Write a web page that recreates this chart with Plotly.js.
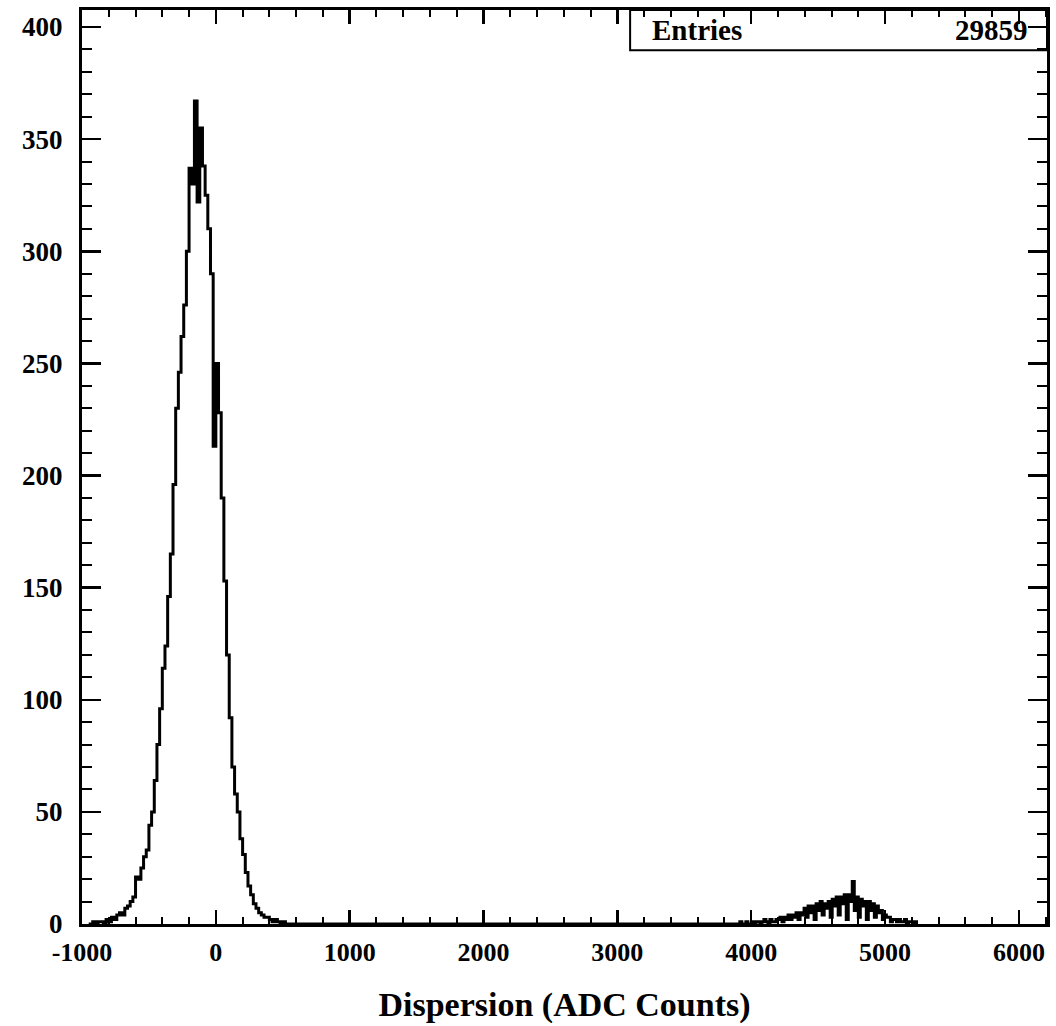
<!DOCTYPE html>
<html>
<head>
<meta charset="utf-8">
<script src="https://cdn.plot.ly/plotly-3.0.1.min.js"></script>
<style>html,body{margin:0;padding:0;background:#fff;}</style>
</head>
<body>
<div id="chart" style="width:1056px;height:1026px;"></div>
<script>
// ---- data ----
// main peak: bins of width 20 starting at -960
const mainBinLow = -960;
const mainBinWidth = 20;
const mainCounts = [
  0, 0, 1, 0, 1, 1, 0, 2, 1, 3,
  2, 4, 5, 4, 7, 8, 10, 12, 21, 20,
  25, 30, 33, 44, 50, 64, 80, 96, 114, 124,
  146, 165, 196, 230, 246, 262, 276, 300, 337, 330,
  367, 322, 355, 338, 325, 310, 290, 213, 250, 228,
  190, 153, 120, 92, 70, 58, 50, 38, 31, 23,
  17, 13, 9, 7, 5, 4, 3, 3, 2, 1,
  2, 1, 0, 1, 0, 0
];
// second peak: bins of width 15 starting at 3900
const secondBinLow = 3900;
const secondBinWidth = 15;
const secondCounts = [
  0, 1, 0, 0, 1, 0, 0, 1, 0, 1,
  1, 0, 1, 2, 1, 0, 2, 1, 1, 2,
  2, 3, 1, 3, 2, 4, 2, 4, 3, 5,
  2, 5, 4, 7, 3, 8, 5, 8, 2, 9,
  6, 10, 4, 9, 7, 10, 3, 11, 8, 12,
  4, 12, 9, 13, 2, 13, 10, 19, 6, 12,
  3, 11, 8, 10, 2, 10, 6, 9, 3, 8,
  5, 6, 2, 4, 3, 3, 1, 2, 2, 1,
  2, 1, 1, 2, 0, 1, 1, 0, 1, 0
];
const entries = 29859;
const xTitle = "Dispersion (ADC Counts)";
const statLabel = "Entries";
const xTickValues = [-1000, 0, 1000, 2000, 3000, 4000, 5000, 6000];
const xTickLabels = ["-1000", "0", "1000", "2000", "3000", "4000", "5000", "6000"];

// ---- build step series ----
const xs = [], ys = [];
mainCounts.forEach((c, i) => { xs.push(mainBinLow + (i + 0.5) * mainBinWidth); ys.push(c); });
secondCounts.forEach((c, i) => { xs.push(secondBinLow + (i + 0.5) * secondBinWidth); ys.push(c); });

const serif = "Liberation Serif, Times New Roman, serif";

const trace = {
  x: xs, y: ys, type: "scatter", mode: "lines",
  line: { shape: "hvh", color: "#000", width: 3 },
  hoverinfo: "skip"
};

const layout = {
  width: 1056, height: 1026,
  margin: { l: 82, r: 9, t: 10, b: 102 },
  paper_bgcolor: "#fff", plot_bgcolor: "#fff",
  showlegend: false,
  font: { family: serif, color: "#000", size: 26, weight: "bold" },
  xaxis: {
    range: [-1000, 6210],
    tickmode: "array", tickvals: xTickValues, ticktext: xTickLabels,
    ticks: "inside", ticklen: 14, tickwidth: 2.5, tickcolor: "#000",
    minor: { dtick: 200, tick0: 0, ticks: "inside", ticklen: 7, tickwidth: 2, tickcolor: "#000" },
    showline: true, linewidth: 3, linecolor: "#000", mirror: "allticks",
    showgrid: false, zeroline: false,
    tickfont: { family: serif, size: 26, color: "#000", weight: "bold" },
    ticklabelstandoff: 3,
    title: { text: xTitle, font: { family: serif, size: 34, color: "#000", weight: "bold" }, standoff: 26 }
  },
  yaxis: {
    range: [0, 407.6], tick0: 0, dtick: 50,
    ticks: "inside", ticklen: 19, tickwidth: 2.5, tickcolor: "#000",
    minor: { dtick: 10, ticks: "inside", ticklen: 10, tickwidth: 2, tickcolor: "#000" },
    showline: true, linewidth: 3, linecolor: "#000", mirror: "allticks",
    showgrid: false, zeroline: false,
    tickfont: { family: serif, size: 27, color: "#000", weight: "bold" },
    ticklabelstandoff: 11
  },
  shapes: [
    { type: "rect", xref: "paper", yref: "paper", x0: 0.568, x1: 1, y0: 0.956, y1: 1,
      line: { color: "#000", width: 2 }, fillcolor: "rgba(255,255,255,0)" }
  ],
  annotations: [
    { xref: "paper", yref: "paper", x: 0.589, y: 0.978, xanchor: "left", yanchor: "middle",
      text: statLabel, showarrow: false, font: { family: serif, size: 29, color: "#000", weight: "bold" } },
    { xref: "paper", yref: "paper", x: 0.982, y: 0.978, xanchor: "right", yanchor: "middle",
      text: String(entries), showarrow: false, font: { family: serif, size: 29, color: "#000", weight: "bold" } }
  ]
};

Plotly.newPlot("chart", [trace], layout, { staticPlot: true, displayModeBar: false });
</script>
</body>
</html>
